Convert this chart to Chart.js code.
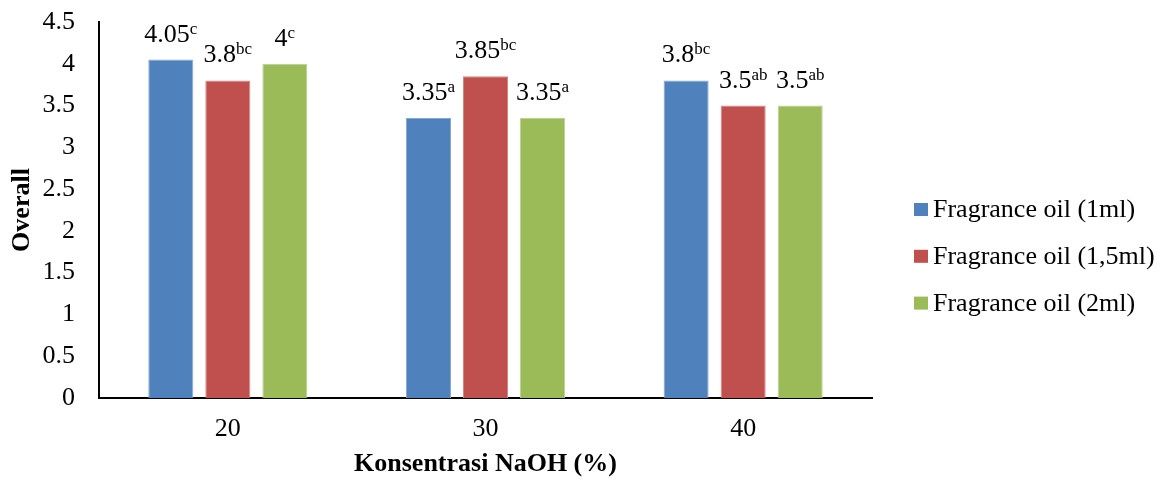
<!DOCTYPE html>
<html>
<head>
<meta charset="utf-8">
<title>Overall - Konsentrasi NaOH</title>
<script src="https://cdn.jsdelivr.net/npm/chart.js@4.4.1/dist/chart.umd.min.js"></script>
<style>
  html, body { margin: 0; padding: 0; background: #ffffff; }
  #wrap { width: 1167px; height: 479px; }
</style>
</head>
<body>
<div id="wrap"><canvas id="chart" width="1167" height="479"></canvas></div>
<script>
// NaOH concentration groups (%)
const categories = ['20', '30', '40'];

// Overall scores per fragrance oil dose
const seriesNames = ['Fragrance oil (1ml)', 'Fragrance oil (1,5ml)', 'Fragrance oil (2ml)'];
const oil1ml  = [4.05, 3.35, 3.8];
const oil15ml = [3.8, 3.85, 3.5];
const oil2ml  = [4, 3.35, 3.5];

// Significance letters shown as superscripts after each value
const letters1ml  = ['c', 'a', 'bc'];
const letters15ml = ['bc', 'bc', 'ab'];
const letters2ml  = ['c', 'a', 'ab'];

// Y axis tick values and their labels
const yTickValues = [0, 0.5, 1, 1.5, 2, 2.5, 3, 3.5, 4, 4.5];
const yTickLabels = ['0', '0.5', '1', '1.5', '2', '2.5', '3', '3.5', '4', '4.5'];

const FONT = "'Liberation Serif', 'Times New Roman', serif";
const colors = ['#4F81BD', '#C0504D', '#9BBB59'];
const edges  = ['#86A7D2', '#D48886', '#BCD28F'];

const values = [oil1ml, oil15ml, oil2ml];
const letters = [letters1ml, letters15ml, letters2ml];

// Value labels with superscript letters above each bar
const valueLabels = {
  id: 'valueLabels',
  afterDatasetsDraw(chart) {
    const ctx = chart.ctx;
    ctx.save();
    ctx.fillStyle = '#000';
    ctx.textBaseline = 'alphabetic';
    chart.data.datasets.forEach((ds, di) => {
      const meta = chart.getDatasetMeta(di);
      meta.data.forEach((bar, i) => {
        const main = String(ds.data[i]);
        const sup = ds.letters[i];
        ctx.font = '26px ' + FONT;
        const wMain = ctx.measureText(main).width;
        ctx.font = '17px ' + FONT;
        const wSup = ctx.measureText(sup).width;
        const start = bar.x - (wMain + wSup) / 2;
        const base = bar.y - 18;
        ctx.textAlign = 'left';
        ctx.font = '26px ' + FONT;
        ctx.fillText(main, start, base);
        ctx.font = '17px ' + FONT;
        ctx.fillText(sup, start + wMain, base - 8);
      });
    });
    ctx.restore();
  }
};

// Vertical legend to the right of the plot
const sideLegend = {
  id: 'sideLegend',
  afterDraw(chart) {
    const ctx = chart.ctx;
    ctx.save();
    ctx.font = '26px ' + FONT;
    ctx.textBaseline = 'middle';
    ctx.textAlign = 'left';
    const x0 = 914;
    const y0 = 209.5;
    const step = 46.8;
    chart.data.datasets.forEach((ds, i) => {
      const cy = y0 + i * step;
      ctx.fillStyle = ds.backgroundColor;
      ctx.fillRect(x0, cy - 6.5, 14, 13);
      ctx.fillStyle = '#000';
      ctx.fillText(ds.label, x0 + 19, cy + 1);
    });
    ctx.restore();
  }
};

new Chart(document.getElementById('chart'), {
  type: 'bar',
  data: {
    labels: categories,
    datasets: values.map((v, i) => ({
      label: seriesNames[i],
      data: v,
      letters: letters[i],
      backgroundColor: colors[i],
      borderColor: edges[i],
      borderWidth: 1,
      borderSkipped: 'bottom',
      categoryPercentage: 0.664,
      barPercentage: 0.79
    }))
  },
  options: {
    responsive: false,
    animation: false,
    layout: { padding: { top: 22, right: 295, bottom: 0, left: 0 } },
    plugins: {
      legend: { display: false },
      tooltip: { enabled: false }
    },
    scales: {
      x: {
        grid: { display: false, drawTicks: false },
        border: { display: true, color: '#000', width: 2 },
        ticks: { color: '#000', font: { family: FONT, size: 26 }, padding: 16 },
        title: {
          display: true,
          text: 'Konsentrasi NaOH (%)',
          color: '#000',
          font: { family: FONT, size: 26, weight: 'bold' },
          padding: { top: 0, bottom: -1 }
        },
        afterFit(scale) {
          scale.height = 81;
          scale.paddingLeft = 0;
          scale.paddingRight = 0;
        }
      },
      y: {
        min: 0,
        max: 4.5,
        grid: { display: false, drawTicks: false },
        border: { display: true, color: '#000', width: 2 },
        afterBuildTicks(scale) { scale.ticks = yTickValues.map(v => ({ value: v })); },
        ticks: {
          color: '#000',
          font: { family: FONT, size: 26 },
          padding: 24,
          callback(value) {
            const k = yTickValues.indexOf(value);
            return k >= 0 ? yTickLabels[k] : '';
          }
        },
        title: {
          display: true,
          text: 'Overall',
          color: '#000',
          font: { family: FONT, size: 26, weight: 'bold' },
          padding: { top: 7, bottom: 0 }
        },
        afterFit(scale) {
          scale.width = 99;
          scale.paddingTop = 0;
          scale.paddingBottom = 0;
        }
      }
    }
  },
  plugins: [valueLabels, sideLegend]
});
</script>
</body>
</html>
